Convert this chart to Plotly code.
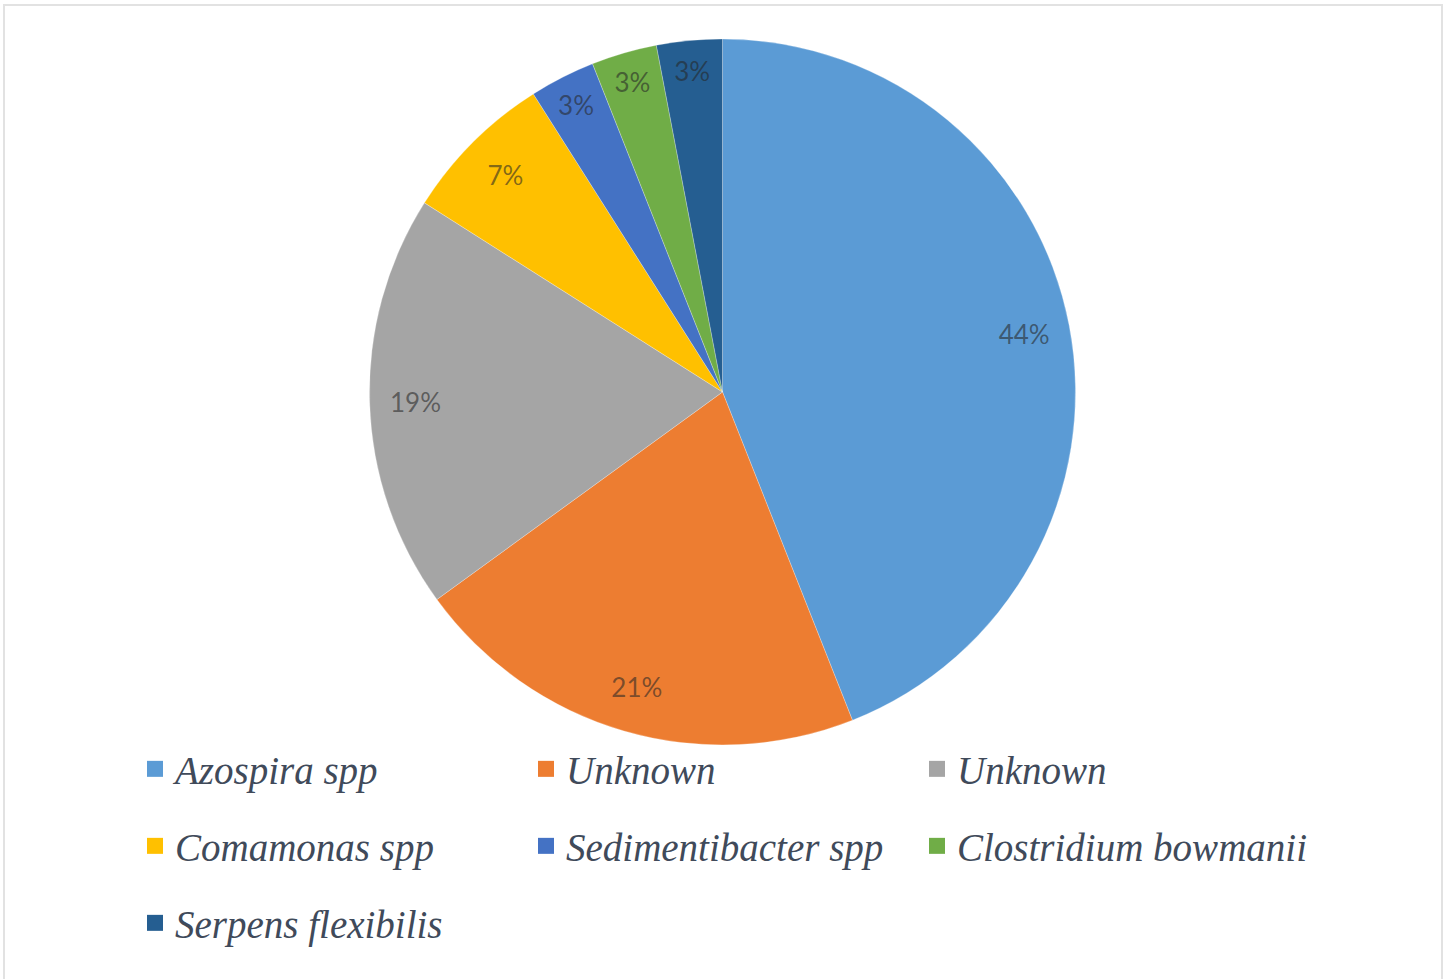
import plotly.graph_objects as go

# Bacterial community composition (% of clones)
species = ["Azospira spp", "Unknown", "Unknown", "Comamonas spp",
           "Sedimentibacter spp", "Clostridium bowmanii", "Serpens flexibilis"]
percent = [44, 21, 19, 7, 3, 3, 3]
colors = ["#5B9BD5", "#ED7D31", "#A5A5A5", "#FFC000", "#4472C4", "#70AD47", "#255E91"]

W, H = 1443, 979
slice_ids = [str(i) for i in range(len(species))]  # two slices share the name "Unknown"
pie_domain = dict(x=[369 / W, 1076 / W], y=[1 - 745 / H, 1 - 39 / H])

fig = go.Figure()

# filled pie
fig.add_trace(go.Pie(
    labels=slice_ids, values=percent, customdata=species,
    hovertemplate="%{customdata}: %{value}%<extra></extra>",
    sort=False, direction="clockwise", rotation=0,
    marker=dict(colors=colors, line=dict(color="rgba(255,255,255,0.5)", width=0.5)),
    textinfo="none", showlegend=False, domain=pie_domain,
))

# transparent outer ring carrying the percentage labels near the rim
fig.add_trace(go.Pie(
    labels=slice_ids, values=percent, hole=0.74,
    sort=False, direction="clockwise", rotation=0,
    marker=dict(colors=["rgba(0,0,0,0)"] * len(species), line=dict(width=0)),
    texttemplate="%{value}%", textposition="inside", insidetextorientation="horizontal",
    textfont=dict(family="Lato", size=26, color="rgba(38,38,38,0.58)"),
    hoverinfo="skip", showlegend=False, domain=pie_domain,
))

# legend entries, three per row
legend_rows = ["legend", "legend2", "legend3"]
for i, (name, col) in enumerate(zip(species, colors)):
    fig.add_trace(go.Scatter(
        x=[None], y=[None], mode="markers", name=name,
        marker=dict(symbol="square", size=16, color=col),
        legend=legend_rows[i // 3], hoverinfo="skip",
    ))

legend_style = dict(
    orientation="h", entrywidth=346, entrywidthmode="pixels",
    xanchor="left", yanchor="middle", x=135 / W,
    font=dict(family="Liberation Serif", size=39, color="#404a5a", style="italic"),
    bgcolor="rgba(0,0,0,0)", borderwidth=0, itemclick=False, itemdoubleclick=False,
)
row_y = [769, 846, 923]

fig.update_layout(
    width=W, height=H,
    margin=dict(l=0, r=0, t=0, b=0),
    paper_bgcolor="white", plot_bgcolor="white",
    xaxis=dict(visible=False), yaxis=dict(visible=False),
    legend=dict(legend_style, y=1 - row_y[0] / H),
    legend2=dict(legend_style, y=1 - row_y[1] / H),
    legend3=dict(legend_style, y=1 - row_y[2] / H),
    shapes=[dict(type="rect", xref="paper", yref="paper",
                 x0=4 / W, x1=1442 / W, y0=-0.01, y1=1 - 5 / H,
                 line=dict(color="#E2E2E2", width=2), fillcolor="rgba(0,0,0,0)")],
)

fig.write_html("out.html")
